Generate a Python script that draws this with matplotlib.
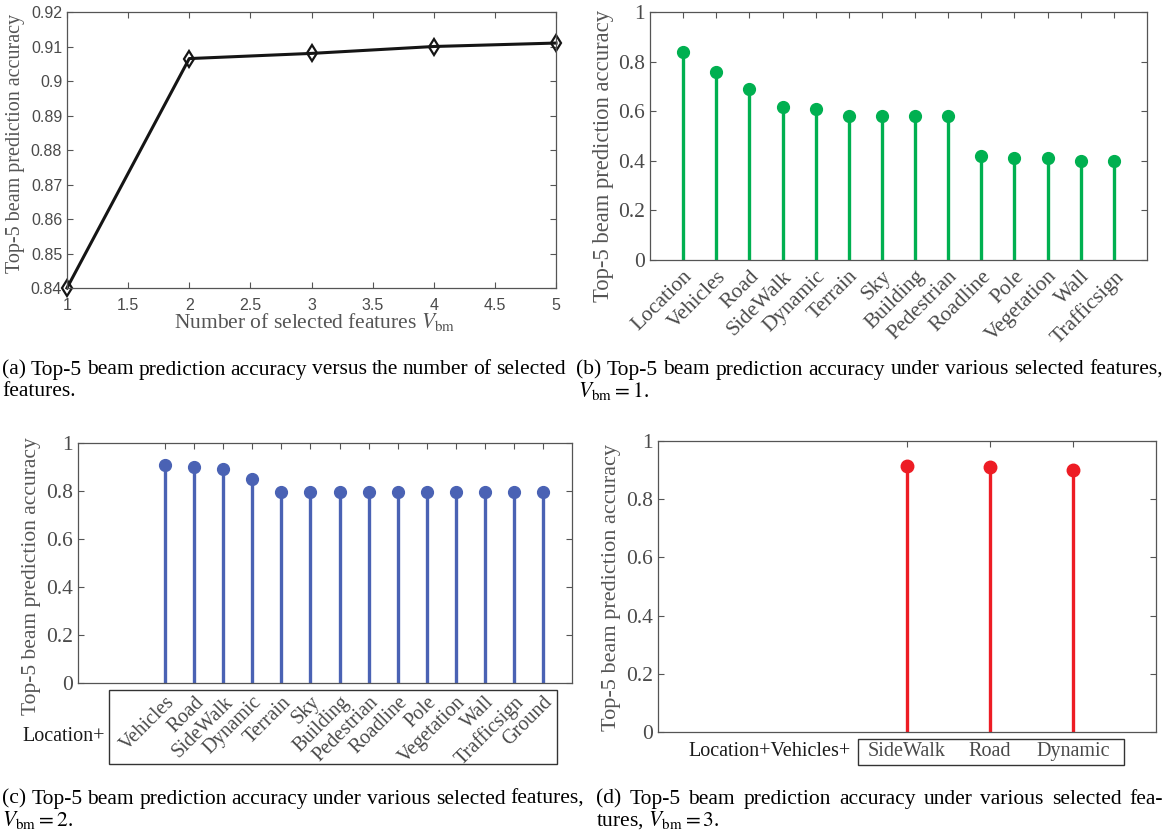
import matplotlib
matplotlib.use("Agg")
import matplotlib.pyplot as plt
from matplotlib.patches import Rectangle
import numpy as np

# ---------------- data ----------------
a_x = [1, 2, 3, 4, 5]
a_acc = [0.840, 0.9065, 0.908, 0.910, 0.911]

b_labels = ["Location", "Vehicles", "Road", "SideWalk", "Dynamic", "Terrain", "Sky",
            "Building", "Pedestrian", "Roadline", "Pole", "Vegetation", "Wall", "Trafficsign"]
b_acc = [0.840, 0.757, 0.690, 0.615, 0.610, 0.580, 0.580, 0.580, 0.580,
         0.420, 0.412, 0.410, 0.400, 0.400]

c_labels = ["Vehicles", "Road", "SideWalk", "Dynamic", "Terrain", "Sky", "Building",
            "Pedestrian", "Roadline", "Pole", "Vegetation", "Wall", "Trafficsign", "Ground"]
c_acc = [0.907, 0.901, 0.893, 0.848, 0.797, 0.797, 0.797, 0.797, 0.797,
         0.797, 0.797, 0.797, 0.797, 0.797]

d_labels = ["SideWalk", "Road", "Dynamic"]
d_acc = [0.913, 0.910, 0.900]

captions = {
    "a": ["(a) Top-5 beam prediction accuracy versus the number of selected", "features."],
    "b": ["(b) Top-5 beam prediction accuracy under various selected features,", r"$V_{\mathrm{bm}}=1$."],
    "c": ["(c) Top-5 beam prediction accuracy under various selected features,", r"$V_{\mathrm{bm}}=2$."],
    "d": ["(d) Top-5 beam prediction accuracy under various selected fea-", r"tures, $V_{\mathrm{bm}}=3$."],
}
ylab = "Top-5 beam prediction accuracy"

# ---------------- style ----------------
plt.rcParams["mathtext.fontset"] = "stix"
SERIF = ["Liberation Serif", "DejaVu Serif"]
SANS = ["Liberation Sans", "DejaVu Sans"]
GRAY = "#4a4a4a"
AXC = "#555555"
GREEN = "#00B050"
BLUE = "#4A62B4"
RED = "#ED1C24"

W, H = 1168, 838
fig = plt.figure(figsize=(W / 100, H / 100), dpi=100)


def add_ax(l, t, r, b):
    return fig.add_axes([l / W, 1 - b / H, (r - l) / W, (b - t) / H])


def style_ax(ax):
    for s in ax.spines.values():
        s.set_color(AXC)
        s.set_linewidth(0.9)
    ax.tick_params(direction="in", top=True, right=True, colors=AXC, length=4,
                   width=0.8, labelcolor=GRAY)


def set_ylabel_px(ax, text, cx, cy, size, l, t, r, b):
    # label anchor is the right edge of the rotated text; shift by half its height
    ax.set_ylabel(text, fontsize=size, family=SERIF, color="#555555")
    half = size * 100 / 72 * 0.5
    ax.yaxis.set_label_coords((cx + half - l) / (r - l), (b - cy) / (b - t))


# ---------------- (a) ----------------
la, ta, ra, ba = 67, 12, 556, 288
axa = add_ax(la, ta, ra, ba)
style_ax(axa)
axa.plot(a_x, a_acc, color="#151515", lw=2.2, marker="d", markersize=8,
         markerfacecolor="none", markeredgecolor="#151515", markeredgewidth=1.6,
         clip_on=False)
axa.set_xlim(1, 5)
axa.set_ylim(0.84, 0.92)
axa.set_xticks(np.arange(1, 5.01, 0.5))
axa.set_xticklabels(["1", "1.5", "2", "2.5", "3", "3.5", "4", "4.5", "5"])
axa.set_yticks(np.arange(0.84, 0.9201, 0.01))
axa.set_yticklabels(["0.84", "0.85", "0.86", "0.87", "0.88", "0.89", "0.9", "0.91", "0.92"])
for lbl in axa.get_xticklabels() + axa.get_yticklabels():
    lbl.set_family(SANS)
    lbl.set_fontsize(11.5)
axa.tick_params(axis="x", pad=7)
set_ylabel_px(axa, ylab, 15, 143, 14.5, la, ta, ra, ba)
axa.set_xlabel(r"Number of selected features $V_{\mathrm{bm}}$", fontsize=15.5,
               family=SERIF, color="#555555")
axa.xaxis.set_label_coords((315 - la) / (ra - la), (ba - 311) / (ba - ta))


def stem_axes(ax, x, y, color, ms):
    ax.vlines(x, 0, y, color=color, lw=2.4, zorder=2)
    ax.plot(x, y, "o", color=color, markersize=ms, zorder=3, clip_on=False)


# ---------------- (b) ----------------
lb, tb, rb, bb = 650, 12, 1147, 260
axb = add_ax(lb, tb, rb, bb)
style_ax(axb)
xb = np.arange(1, len(b_labels) + 1)
stem_axes(axb, xb, b_acc, GREEN, 8.5)
axb.set_xlim(0, len(b_labels) + 1)
axb.set_ylim(0, 1)
axb.set_yticks([0, 0.2, 0.4, 0.6, 0.8, 1])
axb.set_yticklabels(["0", "0.2", "0.4", "0.6", "0.8", "1"], family=SERIF, fontsize=15.5)
axb.set_xticks(xb)
axb.set_xticklabels(b_labels, family=SERIF, fontsize=15.5, rotation=45, ha="right",
                    va="top", rotation_mode="anchor")
axb.tick_params(axis="x", pad=5)
set_ylabel_px(axb, ylab, 603, 156, 16.3, lb, tb, rb, bb)

# ---------------- (c) ----------------
lc, tc, rc, bc = 78, 443, 572, 683
axc = add_ax(lc, tc, rc, bc)
style_ax(axc)
xc = np.arange(1, len(c_labels) + 1)
stem_axes(axc, xc, c_acc, BLUE, 8.5)
axc.set_xlim(-2, len(c_labels) + 1)
axc.set_ylim(0, 1)
axc.set_yticks([0, 0.2, 0.4, 0.6, 0.8, 1])
axc.set_yticklabels(["0", "0.2", "0.4", "0.6", "0.8", "1"], family=SERIF, fontsize=15.5)
axc.set_xticks(xc)
axc.set_xticklabels(c_labels, family=SERIF, fontsize=14.5, rotation=45, ha="right",
                    va="top", rotation_mode="anchor")
axc.tick_params(axis="x", pad=7)
set_ylabel_px(axc, ylab, 30, 576, 15.5, lc, tc, rc, bc)
fig.add_artist(Rectangle((109 / W, 1 - 764 / H), (557 - 109) / W, (764 - 690) / H,
                         transform=fig.transFigure, fill=False, edgecolor="#333333", lw=1.0))
fig.text(64 / W, 1 - 736 / H, "Location+", family=SERIF, fontsize=14.5, color="#1a1a1a",
         ha="center", va="center")

# ---------------- (d) ----------------
ld, td, rd, bd = 658, 441, 1156, 732
axd = add_ax(ld, td, rd, bd)
style_ax(axd)
xd = np.arange(1, len(d_labels) + 1)
stem_axes(axd, xd, d_acc, RED, 9)
axd.set_xlim(-2, len(d_labels) + 1)
axd.set_ylim(0, 1)
axd.set_yticks([0, 0.2, 0.4, 0.6, 0.8, 1])
axd.set_yticklabels(["0", "0.2", "0.4", "0.6", "0.8", "1"], family=SERIF, fontsize=15.5)
axd.set_xticks(xd)
axd.set_xticklabels(d_labels, family=SERIF, fontsize=14.5)
axd.tick_params(axis="x", pad=7)
set_ylabel_px(axd, ylab, 610, 587, 16, ld, td, rd, bd)
fig.add_artist(Rectangle((858 / W, 1 - 765 / H), (1124 - 858) / W, (765 - 739) / H,
                         transform=fig.transFigure, fill=False, edgecolor="#333333", lw=1.0))
fig.text(851 / W, 1 - 751 / H, "Location+Vehicles+", family=SERIF, fontsize=14.5,
         color="#1a1a1a", ha="right", va="center")

# ---------------- captions (justified) ----------------
renderer = fig.canvas.get_renderer()
lines_full = [(captions["a"][0], 2, 566), (captions["b"][0], 576, 1163),
              (captions["c"][0], 2, 584), (captions["d"][0], 596, 1163)]

# choose a common font size so that a full line has ~0.25em inter-word spacing
REF = 12.0
sizes = []
for line, x0, x1 in lines_full:
    words = line.split(" ")
    tw = 0
    for w in words:
        t = fig.text(0, 0, w, family=SERIF, fontsize=REF)
        tw += t.get_window_extent(renderer).width
        t.remove()
    n = len(words) - 1
    sizes.append((x1 - x0) / (tw / REF + n * 0.25 * 100 / 72))
CAP = float(np.median(sizes))


def justified(line, x0, x1, yc, justify=True, size=CAP):
    words = line.split(" ")
    if not justify:
        fig.text(x0 / W, 1 - yc / H, line, family=SERIF, fontsize=size, color="black",
                 ha="left", va="center")
        return
    texts = [fig.text(0, 1 - yc / H, w, family=SERIF, fontsize=size, color="black",
                      ha="left", va="center") for w in words]
    widths = [t.get_window_extent(renderer).width for t in texts]
    gap = (x1 - x0 - sum(widths)) / (len(words) - 1)
    x = x0
    for t, w in zip(texts, widths):
        t.set_x(x / W)
        x += w + gap


justified(captions["a"][0], 2, 566, 370)
justified(captions["a"][1], 2, 566, 391, justify=False)
justified(captions["b"][0], 576, 1163, 370)
justified(captions["b"][1], 578, 1163, 391, justify=False)
justified(captions["c"][0], 2, 584, 799)
justified(captions["c"][1], 2, 584, 820, justify=False)
justified(captions["d"][0], 596, 1163, 799)
justified(captions["d"][1], 596, 1163, 820, justify=False)

fig.savefig("out.png", dpi=100)
